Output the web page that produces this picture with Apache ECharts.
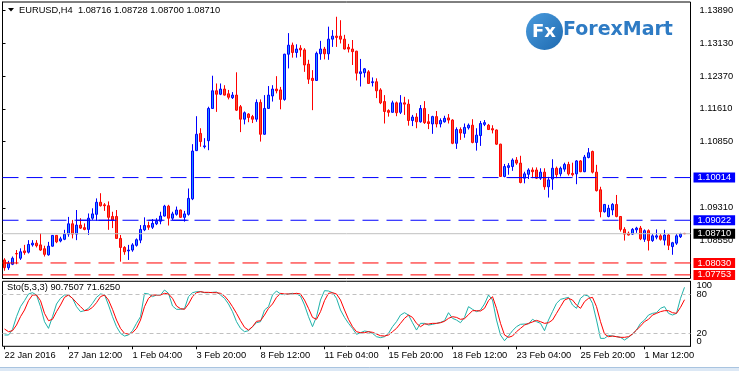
<!DOCTYPE html>
<html><head><meta charset="utf-8">
<script src="https://cdn.jsdelivr.net/npm/echarts@6/dist/echarts.min.js"></script>
<style>html,body{margin:0;padding:0;background:#fff;}#c{width:739px;height:371px;}</style>
</head><body><div id="c"></div>
<script>
// ---------- data ----------
const open = [1.0810,1.0792,1.0800,1.0825,1.0814,1.0831,1.0828,1.0845,1.0849,1.0845,
1.0836,1.0822,1.0842,1.0867,1.0854,1.0858,1.0870,1.0894,1.0870,1.0891,
1.0885,1.0881,1.0907,1.0916,1.0944,1.0938,1.0936,1.0911,1.0911,1.0860,
1.0839,1.0831,1.0833,1.0844,1.0856,1.0880,1.0890,1.0886,1.0894,1.0900,
1.0912,1.0935,1.0907,1.0916,1.0926,1.0909,1.0916,1.0952,1.1064,1.1104,
1.1073,1.1087,1.1162,1.1203,1.1195,1.1207,1.1196,1.1187,1.1193,1.1166,
1.1137,1.1149,1.1143,1.1137,1.1176,1.1102,1.1162,1.1191,1.1207,1.1205,
1.1183,1.1288,1.1309,1.1292,1.1302,1.1298,1.1265,1.1232,1.1227,1.1289,
1.1300,1.1289,1.1323,1.1330,1.1330,1.1323,1.1304,1.1300,1.1295,1.1243,
1.1245,1.1247,1.1222,1.1224,1.1205,1.1178,1.1157,1.1153,1.1175,1.1153,
1.1175,1.1172,1.1134,1.1142,1.1131,1.1162,1.1131,1.1126,1.1143,1.1126,
1.1131,1.1140,1.1135,1.1081,1.1113,1.1104,1.1117,1.1123,1.1083,1.1099,
1.1125,1.1123,1.1115,1.1112,1.1079,1.1004,1.1025,1.1027,1.1042,1.1035,
1.1000,1.1009,1.1019,1.1019,1.1000,1.1014,1.0980,1.0998,1.1023,1.1010,
1.1021,1.1032,1.1011,1.1010,1.1040,1.1015,1.1048,1.1062,1.1014,1.0973,
1.0922,1.0911,1.0926,1.0939,1.0911,1.0881,1.0872,1.0870,1.0880,1.0884,
1.0858,1.0878,1.0855,1.0863,1.0866,1.0856,1.0868,1.0841,1.0849,1.0864,
1.08716];
const close = [1.0792,1.0802,1.0814,1.0824,1.0829,1.0827,1.0846,1.0849,1.0843,1.0833,
1.0823,1.0842,1.0867,1.0852,1.0859,1.0870,1.0894,1.0870,1.0891,1.0884,
1.0881,1.0907,1.0917,1.0944,1.0936,1.0936,1.0909,1.0903,1.0860,1.0839,
1.0829,1.0833,1.0845,1.0857,1.0881,1.0890,1.0886,1.0895,1.0900,1.0912,
1.0935,1.0907,1.0917,1.0926,1.0909,1.0917,1.0953,1.1063,1.1102,1.1085,
1.1075,1.1162,1.1203,1.1195,1.1207,1.1193,1.1188,1.1193,1.1158,1.1137,
1.1152,1.1141,1.1137,1.1176,1.1102,1.1162,1.1193,1.1207,1.1203,1.1183,
1.1288,1.1309,1.1292,1.1300,1.1298,1.1263,1.1230,1.1227,1.1290,1.1300,
1.1289,1.1323,1.1330,1.1327,1.1323,1.1300,1.1300,1.1294,1.1244,1.1247,
1.1254,1.1220,1.1224,1.1203,1.1175,1.1155,1.1153,1.1175,1.1152,1.1175,
1.1172,1.1134,1.1142,1.1131,1.1162,1.1129,1.1127,1.1143,1.1126,1.1134,
1.1139,1.1135,1.1081,1.1113,1.1105,1.1118,1.1123,1.1083,1.1100,1.1127,
1.1129,1.1113,1.1112,1.1079,1.1004,1.1027,1.1029,1.1042,1.1035,1.0990,
1.1010,1.1019,1.1015,1.1000,1.1014,1.0980,1.0996,1.1023,1.1008,1.1023,
1.1032,1.1010,1.1008,1.1040,1.1015,1.1049,1.1059,1.1014,1.0971,1.0922,
1.0939,1.0930,1.0939,1.0911,1.0881,1.0870,1.0868,1.0881,1.0884,1.0859,
1.0878,1.0855,1.0866,1.0866,1.0858,1.0868,1.0844,1.0850,1.0866,1.0870,
1.08710];
const high = [1.0814,1.0808,1.0818,1.0833,1.0837,1.0845,1.0856,1.0856,1.0856,1.0872,
1.0843,1.0852,1.0868,1.0868,1.0864,1.0880,1.0910,1.0903,1.0926,1.0907,
1.0895,1.0918,1.0930,1.0953,1.0965,1.0942,1.0946,1.0922,1.0926,1.0868,
1.0842,1.0845,1.0849,1.0860,1.0891,1.0909,1.0899,1.0905,1.0907,1.0922,
1.0938,1.0938,1.0922,1.0934,1.0927,1.0924,1.0976,1.1079,1.1144,1.1116,
1.1093,1.1166,1.1238,1.1220,1.1220,1.1216,1.1205,1.1200,1.1246,1.1170,
1.1155,1.1151,1.1147,1.1183,1.1183,1.1193,1.1214,1.1216,1.1237,1.1212,
1.1289,1.1337,1.1315,1.1311,1.1309,1.1302,1.1275,1.1251,1.1294,1.1319,
1.1305,1.1352,1.1344,1.1375,1.1367,1.1333,1.1312,1.1321,1.1296,1.1277,
1.1256,1.1251,1.1234,1.1232,1.1209,1.1193,1.1160,1.1180,1.1178,1.1193,
1.1189,1.1183,1.1147,1.1151,1.1170,1.1179,1.1149,1.1145,1.1156,1.1139,
1.1145,1.1149,1.1137,1.1118,1.1118,1.1127,1.1127,1.1137,1.1116,1.1133,
1.1135,1.1126,1.1123,1.1113,1.1080,1.1033,1.1035,1.1046,1.1049,1.1052,
1.1015,1.1023,1.1025,1.1025,1.1023,1.1023,1.1003,1.1044,1.1027,1.1027,
1.1036,1.1038,1.1036,1.1042,1.1042,1.1054,1.1070,1.1064,1.1031,1.0980,
1.0940,1.0938,1.0942,1.0961,1.0912,1.0886,1.0876,1.0884,1.0887,1.0889,
1.0881,1.0881,1.0870,1.0881,1.0870,1.0880,1.0870,1.0852,1.0870,1.0873,
1.08728];
const low = [1.0785,1.0787,1.0798,1.0800,1.0810,1.0822,1.0825,1.0841,1.0839,1.0831,
1.0818,1.0820,1.0841,1.0849,1.0851,1.0856,1.0864,1.0860,1.0856,1.0882,
1.0879,1.0868,1.0903,1.0901,1.0934,1.0924,1.0880,1.0884,1.0859,1.0806,
1.0822,1.0810,1.0829,1.0841,1.0849,1.0877,1.0880,1.0882,1.0891,1.0893,
1.0911,1.0890,1.0903,1.0913,1.0908,1.0899,1.0913,1.0949,1.1063,1.1073,
1.1069,1.1065,1.1161,1.1154,1.1193,1.1192,1.1183,1.1184,1.1156,1.1107,
1.1125,1.1130,1.1128,1.1131,1.1085,1.1101,1.1161,1.1178,1.1197,1.1160,
1.1180,1.1255,1.1280,1.1280,1.1282,1.1247,1.1219,1.1158,1.1226,1.1275,
1.1276,1.1275,1.1305,1.1305,1.1313,1.1299,1.1292,1.1263,1.1227,1.1213,
1.1234,1.1219,1.1213,1.1186,1.1172,1.1127,1.1143,1.1152,1.1144,1.1149,
1.1147,1.1122,1.1121,1.1116,1.1129,1.1126,1.1114,1.1103,1.1118,1.1118,
1.1129,1.1127,1.1079,1.1068,1.1089,1.1094,1.1113,1.1081,1.1064,1.1075,
1.1121,1.1112,1.1104,1.1077,1.1003,1.1002,1.1008,1.1017,1.1031,1.0988,
1.0988,1.0998,1.1000,1.0998,1.0996,1.0973,1.0955,1.0973,1.1000,1.1004,
1.1015,1.1006,1.1004,1.0986,1.1014,1.1014,1.1046,1.1011,1.0969,1.0909,
1.0920,1.0909,1.0914,1.0909,1.0876,1.0855,1.0867,1.0868,1.0873,1.0856,
1.0852,1.0832,1.0852,1.0858,1.0855,1.0844,1.0833,1.0822,1.0845,1.0861,
1.08700];
const stochK = [17.4,17.4,26.1,45.6,61.0,70.2,80.5,82.5,78.9,61.0,
37.9,27.6,45.6,65.1,73.8,78.9,78.9,73.8,61.0,53.3,
54.8,58.4,66.1,75.3,80.5,79.4,63.5,45.6,30.2,19.9,
15.8,17.4,24.0,35.3,45.6,81.5,80.5,76.4,78.9,78.9,
86.6,81.5,62.0,56.9,56.9,57.9,76.4,82.5,84.0,84.0,
82.5,82.5,83.0,83.5,78.9,73.8,65.1,53.3,37.9,27.6,
22.5,24.0,30.2,36.3,37.9,55.8,61.0,78.9,85.1,80.5,
79.4,80.5,81.5,80.5,77.4,63.5,45.6,30.2,45.6,71.2,
85.6,85.1,82.5,73.8,55.8,44.5,35.3,27.6,18.4,20.9,
23.5,22.5,19.9,14.8,13.3,14.8,19.9,30.2,37.9,48.1,
51.7,48.1,36.3,25.0,35.3,35.3,32.7,33.8,35.3,36.8,
39.4,51.7,43.0,40.4,36.3,44.5,61.0,56.9,53.3,55.8,
65.1,78.9,71.2,40.4,17.4,8.6,15.8,24.0,30.2,33.8,
34.3,34.3,41.5,37.9,35.3,24.0,40.4,53.3,66.1,72.2,
73.8,75.3,63.5,58.4,73.8,78.9,77.4,66.1,40.4,12.2,
12.2,16.8,15.8,14.8,13.8,9.7,13.8,18.9,25.0,35.3,
40.4,48.1,50.7,51.7,58.4,61.0,50.7,48.1,50.7,73.8,
90.75];
const stochD = [26.6,22.5,24.0,32.7,45.6,55.8,70.2,78.9,78.9,70.2,
50.7,39.4,41.5,53.3,63.5,75.3,78.9,73.8,67.1,61.0,
54.8,55.8,59.9,67.1,76.4,78.9,71.2,56.9,40.4,27.6,
19.9,18.9,20.9,27.6,40.4,61.0,73.8,78.9,78.9,78.9,
81.5,80.5,73.8,62.0,57.9,56.9,65.1,76.4,82.5,84.0,
83.0,83.0,82.5,82.5,81.5,77.4,70.2,61.0,50.7,39.4,
29.2,25.0,30.2,38.4,39.4,48.1,58.4,65.1,75.3,81.5,
80.5,80.5,80.5,81.5,80.5,71.2,58.4,44.5,41.5,53.3,
70.2,81.5,82.5,80.5,71.2,55.8,41.5,30.2,22.5,20.9,
20.9,22.5,21.5,18.9,16.3,15.8,17.4,22.5,27.6,35.3,
43.0,48.1,44.5,35.3,30.2,34.3,34.3,35.3,35.3,36.3,
38.4,43.0,45.6,44.5,41.5,42.5,48.6,54.8,54.8,54.3,
58.4,70.2,76.4,58.4,35.3,17.4,13.8,15.8,22.5,27.6,
32.7,35.3,37.4,39.9,37.9,35.3,36.3,40.4,50.7,61.0,
71.2,73.8,71.2,63.5,58.4,68.7,73.8,75.3,61.0,37.9,
18.9,14.8,15.8,14.8,13.8,13.8,14.8,18.9,25.0,31.2,
37.9,41.5,48.1,50.7,53.3,54.8,54.8,51.7,50.7,59.9,
71.625];
const priceTicks = [1.0855,1.0931,1.1085,1.1161,1.1237,1.1313,1.1389];
const stoInnerTicks = [20,80];
const stoOuterTicks = [0,100];
const stoLevels = [20,80];
const resistanceLevels = [1.10014,1.09022];
const supportLevels = [1.08030,1.07753];
const lastPrice = 1.08710;
// solid horizontal segments: [fromBar, toBar, level]
const blueSegments = [[18,28,1.09022],[36,40,1.09022],[42,46,1.09022],[126,131,1.10014],[132,142,1.10014],[144,148,1.10014]];
const redSegments = [[0,1,1.08030]];
const xLabelIdx = [0,16,32,48,64,80,96,112,128,144,160];
const xLabelText = ['22 Jan 2016','27 Jan 12:00','1 Feb 04:00','3 Feb 20:00','8 Feb 12:00','11 Feb 04:00','15 Feb 20:00','18 Feb 12:00','23 Feb 04:00','25 Feb 20:00','1 Mar 12:00'];
const titleText = 'EURUSD,H4  1.08716 1.08728 1.08700 1.08710';
const stoText = 'Sto(5,3,3) 90.7507 71.6250';

// ---------- categories: H4 bars, weekdays only ----------
const MON = ['Jan','Feb','Mar'];
const cats = [];
(function(){
  let t = Date.UTC(2016,0,22,20);
  while (cats.length < open.length) {
    const d = new Date(t); const wd = d.getUTCDay();
    if (wd !== 0 && wd !== 6) cats.push(d.getUTCDate()+' '+MON[d.getUTCMonth()]+' '+String(d.getUTCHours()).padStart(2,'0')+':00');
    t += 4*3600e3;
  }
  cats.push(''); // chart shift space
})();
const labelMap = {}; xLabelIdx.forEach((i,k)=>labelMap[i]=xLabelText[k]);
const isLabel = i => labelMap[i] !== undefined;

const FONT = 'Liberation Sans';
const FS = 9.3;
const candles = open.map((o,i)=>[o, close[i], low[i], high[i]]);

// horizontal level: drawn on a hidden 0..1 value x-axis spanning the whole main pane
function levelSeries(v, lineColor, boxColor, solid) {
  return {
    type: 'line', xAxisIndex: 2, yAxisIndex: 0, silent: true, z: 3, animation: false,
    symbol: 'none', showSymbol: false, clip: false,
    data: [[0, v], [1, v]],
    color: lineColor,
    lineStyle: {color: lineColor, width: 1, type: solid ? 'solid' : [16,8]},
    itemStyle: {color: lineColor},
    emphasis: {disabled: true},
    endLabel: {show: true, formatter: () => v.toFixed(5), distance: 3,
               color: '#fff', backgroundColor: boxColor, padding: [1,4,0,4],
               fontSize: FS, fontFamily: FONT}
  };
}
function segmentSeries(s, color) {
  return {
    type: 'line', xAxisIndex: 0, yAxisIndex: 0, silent: true, z: 3, animation: false,
    symbol: 'none', showSymbol: false,
    data: [[s[0], s[2]], [s[1], s[2]]],
    color: color, lineStyle: {color: color, width: 1, type: 'solid'},
    emphasis: {disabled: true}
  };
}

const series = [
  {type: 'candlestick', xAxisIndex: 0, yAxisIndex: 0, data: candles, barWidth: 2, z: 2,
   itemStyle: {color: '#1E90FF', color0: '#F0502D', borderColor: '#0000FF', borderColor0: '#FF0000', borderWidth: 1}},
  {type: 'line', xAxisIndex: 1, yAxisIndex: 1, data: stochK, showSymbol: false, symbol: 'none',
   color: '#20B2AA', lineStyle: {color: '#20B2AA', width: 1}, itemStyle: {color: '#20B2AA'},
   markLine: {silent: true, symbol: ['none','none'], label: {show: false}, precision: 2,
              lineStyle: {color: '#C0C0C0', type: [4,3], width: 1},
              data: stoLevels.map(v=>({yAxis: v}))}},
  {type: 'line', xAxisIndex: 1, yAxisIndex: 1, data: stochD, showSymbol: false, symbol: 'none',
   color: '#FF0000', lineStyle: {color: '#FF0000', width: 1}, itemStyle: {color: '#FF0000'}}
];
resistanceLevels.forEach(v => series.push(levelSeries(v, '#0000FF', '#0000FF', false)));
supportLevels.forEach(v => series.push(levelSeries(v, '#FF0000', '#FF0000', false)));
series.push(levelSeries(lastPrice, '#C0C0C0', '#000000', true));
blueSegments.forEach(s => series.push(segmentSeries(s, '#0000FF')));
redSegments.forEach(s => series.push(segmentSeries(s, '#FF0000')));

const chart = echarts.init(document.getElementById('c'));
chart.setOption({
  animation: false,
  backgroundColor: '#ffffff',
  grid: [
    {left: 2.5, top: 2, width: 688, height: 276.5, show: true, borderColor: '#000', borderWidth: 1},
    {left: 2.5, top: 281.3, width: 688, height: 65, show: true, borderColor: '#000', borderWidth: 1}
  ],
  xAxis: [
    {gridIndex: 0, type: 'category', data: cats, boundaryGap: true,
     axisLine: {show: false}, axisTick: {show: false}, axisLabel: {show: false}, splitLine: {show: false}},
    {gridIndex: 1, type: 'category', data: cats, boundaryGap: true,
     axisLine: {show: false},
     axisTick: {show: true, alignWithLabel: true, interval: (i)=>isLabel(i), length: 3, lineStyle: {color: '#000'}},
     axisLabel: {interval: (i)=>isLabel(i), formatter: (v,i)=>labelMap[i] || '', align: 'left',
                 margin: 5, fontSize: FS, fontFamily: FONT, color: '#000'},
     splitLine: {show: false}},
    {gridIndex: 0, type: 'value', min: 0, max: 1, show: false}
  ],
  yAxis: [
    {gridIndex: 0, type: 'value', position: 'right', min: 1.07669, max: 1.14093, scale: true,
     axisLine: {show: true, lineStyle: {color: '#000'}},
     axisTick: {show: true, customValues: priceTicks, length: 3, lineStyle: {color: '#000'}},
     axisLabel: {customValues: priceTicks, formatter: v=>v.toFixed(5), fontSize: FS, fontFamily: FONT, color: '#000', margin: 9},
     splitLine: {show: false}},
    {gridIndex: 1, type: 'value', position: 'right', min: 0, max: 100,
     axisLine: {show: true, lineStyle: {color: '#000'}},
     axisTick: {show: false},
     axisLabel: {customValues: stoInnerTicks, margin: 6, fontSize: FS, fontFamily: FONT, color: '#000'},
     splitLine: {show: false}},
    {gridIndex: 1, type: 'value', position: 'right', min: 0, max: 100,
     axisLine: {show: false}, axisTick: {show: false}, splitLine: {show: false},
     axisLabel: {customValues: stoOuterTicks, margin: 6, fontSize: FS, fontFamily: FONT, color: '#000',
                 showMinLabel: true, showMaxLabel: true,
                 formatter: v => v===100 ? '{t|100}' : '{b|0}',
                 rich: {t: {padding: [9,0,0,0], fontSize: FS, fontFamily: FONT, color: '#000'},
                        b: {padding: [0,0,10,0], fontSize: FS, fontFamily: FONT, color: '#000'}}}}
  ],
  series: series,
  graphic: [
    {type: 'polygon', shape: {points: [[8,8],[14,8],[11,11.5]]}, style: {fill: '#000'}},
    {type: 'text', x: 19, y: 10.7, style: {text: titleText, font: FS+'px '+FONT, fill: '#000', verticalAlign: 'middle'}},
    {type: 'text', x: 7, y: 287.5, style: {text: stoText, font: FS+'px '+FONT, fill: '#000', verticalAlign: 'middle'}},
    {type: 'circle', shape: {cx: 544.5, cy: 31.5, r: 18.5},
     style: {fill: new echarts.graphic.LinearGradient(0,0,1,1,[{offset:0,color:'#4A9BDD'},{offset:1,color:'#1E6AB0'}])}},
    {type: 'text', x: 544, y: 32.5, style: {text: 'Fx', font: 'bold 18px "DejaVu Sans"', fill: '#fff', align: 'center', verticalAlign: 'middle'}},
    {type: 'text', x: 563, y: 30, style: {text: 'ForexMart', font: 'bold 19px "DejaVu Sans"', fill: '#2E7BC4', verticalAlign: 'middle'}},
    {type: 'rect', shape: {x: 0, y: 367, width: 739, height: 4}, style: {fill: '#DCE8F5'}},
    {type: 'line', shape: {x1: 0, y1: 367.5, x2: 739, y2: 367.5}, style: {stroke: '#A9C4E0', lineWidth: 1}}
  ]
});
</script></body></html>
